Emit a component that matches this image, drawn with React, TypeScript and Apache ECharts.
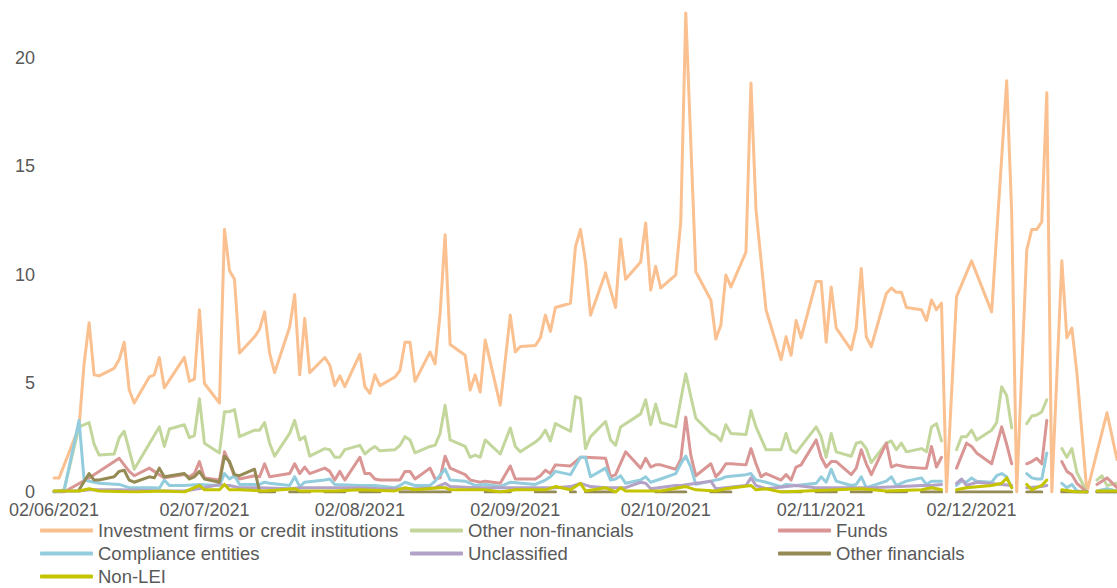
import React, { useEffect, useRef } from "react";
import * as echarts from "echarts";

// x values are days since 2 June 2021; "-" marks a gap in a series
const START_DATE_UTC = Date.UTC(2021, 5, 2);
const monthTickDays = [0, 30, 61, 92, 122, 153, 183];

const seriesNames = [
  "Investment firms or credit institutions",
  "Other non-financials",
  "Funds",
  "Compliance entities",
  "Unclassified",
  "Other financials",
  "Non-LEI",
];

const seriesColors = ["#FAC090", "#C3D69B", "#D99694", "#93CDDD", "#B3A2C7", "#948A54", "#C4C400"];

const investmentFirms = [
  [0, 0.64], [1, 0.64], [5, 3.0], [6, 5.9], [7, 7.8], [8, 5.4], [9, 5.35], [12, 5.7], [13, 6.1], [14, 6.9],
  [15, 4.7], [16, 4.1], [19, 5.3], [20, 5.4], [21, 6.2], [22, 4.8], [26, 6.2], [27, 5.1], [28, 5.2], [29, 8.4],
  [30, 5.0], [33, 4.1], [34, 12.1], [35, 10.2], [36, 9.8], [37, 6.4], [40, 7.15], [41, 7.5], [42, 8.3], [43, 6.4],
  [44, 5.5], [47, 7.6], [48, 9.1], [49, 5.4], [50, 8.0], [51, 5.5], [54, 6.2], [55, 5.85], [56, 4.9], [57, 5.35],
  [58, 4.85], [61, 6.35], [62, 4.85], [63, 4.55], [64, 5.4], [65, 4.9], [68, 5.3], [69, 5.6], [70, 6.9], [71, 6.9],
  [72, 5.1], [75, 6.45], [76, 5.9], [77, 8.2], [78, 11.85], [79, 6.8], [82, 6.3], [83, 4.7], [84, 5.4], [85, 4.6],
  [86, 7.0], [89, 4.0], [91, 8.15], [92, 6.45], [93, 6.7], [96, 6.75], [97, 7.1], [98, 8.15], [99, 7.4], [100, 8.5],
  [103, 8.7], [104, 11.3], [105, 12.1], [106, 10.6], [107, 8.15], [110, 10.1], [112, 8.5], [113, 11.65], [114, 9.8],
  [117, 10.6], [118, 12.4], [119, 9.3], [120, 10.4], [121, 9.4], [124, 10.0], [125, 12.45], [126, 22.07], [128, 10.15],
  [131, 8.85], [132, 7.05], [133, 7.7], [134, 10.0], [135, 9.45], [138, 11.05], [139, 18.85], [140, 13.0], [142, 8.4],
  [145, 6.1], [146, 7.15], [147, 6.3], [148, 7.9], [149, 7.1], [152, 9.7], [153, 9.7], [154, 6.9], [155, 9.45],
  [156, 7.55], [159, 6.55], [160, 7.55], [161, 10.3], [162, 7.15], [163, 6.7], [166, 9.15], [167, 9.4], [168, 9.2],
  [169, 9.2], [170, 8.5], [173, 8.4], [174, 7.9], [175, 8.85], [176, 8.4], [177, 8.7], [178, 0], [180, 9.0],
  [183, 10.65], [187, 8.3], [190, 18.95], [191, 12.85], [192, 0], [194, 11.15], [195, 12.1], [196, 12.1], [197, 12.45],
  [198, 18.4], [199, 0], [201, 10.65], [202, 7.1], [203, 7.55], [204, 5.5], [206, 0], [210, 3.65], [212, 1.5],
];

const otherNonFinancials = [
  [0, 0], [2, 0.1], [5, 3.0], [7, 3.2], [8, 2.2], [9, 1.7], [12, 1.75], [13, 2.5], [14, 2.8], [16, 1.05],
  [21, 3.0], [22, 2.1], [23, 2.9], [26, 3.1], [27, 2.5], [28, 2.6], [29, 4.3], [30, 2.25], [33, 1.8], [34, 3.7],
  [35, 3.7], [36, 3.8], [37, 2.55], [40, 2.85], [41, 2.85], [42, 3.2], [43, 2.25], [44, 1.65], [47, 2.7], [48, 3.3],
  [49, 2.4], [50, 2.55], [51, 1.65], [54, 2.0], [55, 1.95], [56, 1.6], [57, 1.6], [58, 1.95], [61, 2.15], [62, 1.75],
  [63, 1.95], [64, 2.1], [65, 1.9], [68, 1.95], [69, 2.15], [70, 2.55], [71, 2.4], [72, 1.8], [75, 2.1], [76, 2.15],
  [77, 2.7], [78, 4.0], [79, 2.4], [82, 2.1], [83, 1.6], [84, 1.7], [85, 1.6], [86, 2.4], [89, 1.75], [91, 2.95],
  [92, 2.1], [93, 1.85], [96, 2.3], [97, 2.5], [98, 2.85], [99, 2.35], [100, 3.15], [103, 2.8], [104, 4.4], [105, 4.3],
  [106, 2.0], [107, 2.55], [110, 3.25], [111, 2.4], [112, 2.15], [113, 3.0], [117, 3.6], [118, 4.25], [119, 3.1],
  [120, 4.05], [121, 3.2], [124, 3.0], [125, 4.25], [126, 5.45], [127, 4.4], [128, 3.4], [131, 2.7], [132, 2.6],
  [133, 2.35], [134, 3.1], [135, 2.7], [138, 2.65], [139, 3.75], [140, 3.0], [142, 1.95], [145, 1.95], [146, 2.7],
  [147, 1.95], [148, 1.8], [152, 3.0], [153, 2.55], [154, 1.6], [155, 2.7], [156, 1.85], [159, 1.65], [160, 2.25],
  [161, 2.3], [162, 2.0], [163, 1.35], [166, 2.25], [167, 2.35], [168, 1.95], [169, 2.25], [170, 1.85], [173, 2.0],
  [174, 1.85], [175, 3.0], [176, 3.15], [177, 2.35], [178, "-"], [180, 1.95], [181, 2.55], [182, 2.55], [183, 2.85],
  [184, 2.4], [187, 2.85], [188, 3.2], [189, 4.85], [190, 4.45], [191, 2.95], [192, "-"], [194, 3.15], [195, 3.5],
  [196, 3.55], [197, 3.7], [198, 4.25], [199, "-"], [201, 2.0], [202, 1.6], [203, 2.0], [204, 0.9], [206, 0],
  [207, "-"], [208, 0.55], [209, 0.75], [210, 0.3], [212, 0.4],
];

const funds = [
  [0, 0], [2, 0], [7, 0.65], [13, 1.55], [15, 0.95], [16, 0.75], [19, 1.1], [20, 0.95], [21, 0.8], [22, 0.65],
  [26, 0.8], [27, 0.7], [28, 0.85], [29, 1.4], [30, 0.65], [33, 0.55], [34, 1.85], [35, 1.35], [36, 0.7], [37, 0.6],
  [40, 0.75], [41, 0.7], [42, 1.3], [43, 0.7], [47, 0.85], [48, 1.3], [49, 0.85], [50, 1.15], [51, 0.85], [54, 1.1],
  [55, 0.95], [56, 0.55], [57, 0.95], [58, 0.55], [61, 1.6], [62, 0.85], [63, 0.85], [64, 0.6], [65, 0.55], [69, 0.55],
  [70, 0.95], [71, 0.95], [72, 0.6], [75, 1.1], [76, 0.6], [77, 0.65], [78, 1.65], [79, 1.1], [82, 0.8], [83, 0.55],
  [84, 0.5], [85, 0.45], [86, 0.5], [89, 0.4], [91, 1.2], [92, 0.6], [96, 0.6], [97, 0.75], [98, 1.0], [99, 0.85],
  [100, 1.25], [103, 1.2], [105, 1.6], [106, 1.6], [110, 1.55], [111, 0.7], [112, 0.8], [114, 1.85], [117, 1.1],
  [118, 1.55], [119, 1.15], [120, 1.25], [121, 1.25], [124, 1.05], [125, 1.5], [126, 3.45], [127, 1.7], [128, 0.75],
  [131, 1.3], [132, 0.7], [133, 0.95], [134, 1.3], [135, 1.3], [138, 1.25], [139, 2.0], [140, 1.3], [141, 0.7],
  [142, 0.85], [145, 0.55], [146, 0.8], [147, 0.55], [148, 1.15], [149, 1.25], [152, 2.4], [153, 1.6], [154, 1.15],
  [155, 1.4], [156, 1.4], [159, 0.8], [160, 1.1], [161, 1.95], [162, 1.3], [163, 0.8], [166, 2.25], [167, 1.15],
  [168, 1.25], [169, 1.2], [170, 1.15], [173, 1.1], [174, 1.1], [175, 2.1], [176, 1.15], [177, 1.6], [178, "-"],
  [180, 1.1], [182, 2.25], [183, 2.1], [184, 1.8], [187, 1.3], [189, 3.0], [190, 2.2], [191, 1.3], [192, "-"],
  [194, 1.3], [195, 1.4], [196, 1.55], [197, 1.3], [198, 3.3], [199, "-"], [201, 1.4], [202, 0.95], [203, 0.8],
  [204, 0.4], [206, 0], [207, "-"], [208, 0.35], [210, 0.65], [212, 0.2],
];

const complianceEntities = [
  [0, 0], [2, 0.05], [5, 3.3], [6, 0.55], [8, 0.45], [9, 0.4], [13, 0.35], [15, 0.2], [20, 0.2], [21, 0.17],
  [22, 0.55], [23, 0.3], [26, 0.3], [29, 0.35], [33, 0.3], [34, 0.85], [35, 0.6], [36, 0.75], [37, 0.35], [41, 0.35],
  [42, 0.45], [43, 0.4], [47, 0.3], [48, 0.7], [49, 0.25], [50, 0.45], [54, 0.55], [55, 0.6], [56, 0.35], [61, 0.3],
  [64, 0.3], [68, 0.2], [69, 0.3], [70, 0.45], [72, 0.3], [75, 0.3], [76, 0.5], [78, 1.05], [79, 0.55], [82, 0.5],
  [84, 0.3], [86, 0.35], [89, 0.25], [91, 0.45], [96, 0.35], [98, 0.55], [99, 0.7], [100, 0.95], [103, 0.8],
  [105, 1.6], [106, 1.6], [107, 0.7], [110, 1.1], [111, 0.55], [112, 0.6], [113, 0.75], [114, 0.4], [117, 0.55],
  [118, 0.7], [119, 0.45], [121, 0.6], [124, 0.85], [125, 1.3], [126, 1.65], [127, 1.15], [128, 0.35], [131, 0.5],
  [133, 0.6], [134, 0.7], [138, 0.8], [139, 0.85], [140, 0.55], [142, 0.45], [145, 0.25], [146, 0.35], [148, 0.3],
  [152, 0.4], [153, 0.7], [154, 0.45], [155, 1.05], [156, 0.5], [159, 0.3], [160, 0.35], [161, 0.7], [162, 0.2],
  [166, 0.5], [167, 0.7], [168, 0.3], [170, 0.5], [173, 0.65], [174, 0.35], [175, 0.5], [177, 0.5], [178, "-"],
  [180, 0.3], [181, 0.5], [182, 0.45], [183, 0.65], [184, 0.5], [187, 0.45], [188, 0.75], [189, 0.85], [190, 0.7],
  [191, 0.2], [192, "-"], [194, 0.85], [195, 0.65], [196, 0.6], [197, 0.6], [198, 1.8], [199, "-"], [201, 0.4],
  [202, 0.2], [203, 0.35], [204, 0.05], [206, 0], [207, "-"], [208, 0.05], [210, 0.15], [212, 0.05],
];

const unclassified = [
  [0, 0.05], [5, 0.05], [7, 0.1], [13, 0.1], [22, 0.05], [26, 0.05], [30, 0.2], [33, 0.35], [34, 0.3], [35, 0.3],
  [37, 0.2], [41, 0.2], [47, 0.15], [49, 0.2], [54, 0.2], [61, 0.2], [65, 0.15], [72, 0.15], [76, 0.2], [78, 0.4],
  [79, 0.25], [84, 0.2], [92, 0.2], [100, 0.2], [103, 0.25], [105, 0.4], [107, 0.25], [110, 0.2], [114, 0.2],
  [117, 0.45], [118, 0.4], [119, 0.15], [124, 0.3], [125, 0.3], [131, 0.5], [132, 0.15], [138, 0.3], [139, 0.65],
  [140, 0.3], [142, 0.15], [148, 0.3], [152, 0.2], [161, 0.2], [163, 0.2], [169, 0.25], [173, 0.3], [175, 0.3],
  [177, 0.35], [178, "-"], [180, 0.4], [181, 0.6], [182, 0.3], [184, 0.45], [189, 0.35], [191, 0.3], [192, "-"],
  [194, 0.2], [197, 0.25], [198, 0.3], [199, "-"], [201, 0.05], [204, 0], [206, 0], [207, "-"], [208, 0], [212, 0],
];

const otherFinancials = [
  [5, 0.1], [7, 0.85], [8, 0.55], [9, 0.55], [12, 0.7], [13, 0.95], [14, 1.0], [15, 0.55], [16, 0.45], [19, 0.7],
  [20, 0.65], [21, 1.1], [22, 0.7], [26, 0.85], [27, 0.6], [28, 0.7], [29, 0.95], [30, 0.6], [33, 0.45], [34, 1.65],
  [35, 1.4], [36, 0.8], [37, 0.75], [40, 1.05], [41, 0], [44, 0], [45, "-"], [47, 0], [51, 0], [52, "-"], [54, 0],
  [58, 0], [59, "-"], [61, 0], [65, 0], [66, "-"], [69, 0], [79, 0], [80, "-"], [86, 0], [91, 0], [94, "-"], [96, 0],
  [100, 0], [101, "-"], [103, 0], [104, 0], [105, "-"], [106, 0], [112, 0], [115, "-"], [120, 0], [126, 0],
  [129, "-"], [131, 0], [135, 0], [136, "-"], [145, 0], [149, 0], [150, "-"], [152, 0], [156, 0], [157, "-"],
  [159, 0], [163, 0], [164, "-"], [166, 0], [170, 0], [171, "-"], [173, 0], [177, 0], [178, "-"], [180, 0],
  [191, 0], [192, "-"], [194, 0], [197, 0], [199, "-"], [201, 0], [206, 0], [207, "-"], [208, 0], [212, 0],
];

const nonLei = [
  [0, 0.05], [5, 0.05], [7, 0.15], [9, 0.05], [16, 0.0], [22, 0.05], [26, 0.0], [29, 0.3], [30, 0.1], [33, 0.1],
  [34, 0.35], [35, 0.1], [37, 0.1], [42, 0.05], [48, 0.15], [49, 0.05], [56, 0.05], [61, 0.1], [68, 0.05], [70, 0.2],
  [72, 0.1], [77, 0.2], [78, 0.2], [79, 0.1], [86, 0.1], [89, 0.0], [92, 0.1], [98, 0.1], [100, 0.25], [103, 0.1],
  [105, 0.4], [106, 0.05], [110, 0.2], [112, 0.0], [113, 0.2], [114, 0.05], [121, 0.05], [126, 0.25], [128, 0.1],
  [132, 0.05], [134, 0.15], [139, 0.3], [140, 0.1], [142, 0.15], [145, 0.0], [161, 0.15], [166, 0.05], [173, 0.1],
  [175, 0.2], [177, 0.1], [178, "-"], [180, 0.1], [182, 0.2], [187, 0.3], [189, 0.4], [190, 0.65], [191, 0.2],
  [192, "-"], [194, 0.35], [195, 0.1], [197, 0.3], [198, 0.55], [199, "-"], [201, 0.1], [204, 0.0], [206, 0],
  [207, "-"], [208, 0.05], [212, 0.05],
];

const seriesData = [
  investmentFirms,
  otherNonFinancials,
  funds,
  complianceEntities,
  unclassified,
  otherFinancials,
  nonLei,
];

const FONT = "'Liberation Sans', Arial, sans-serif";
const TEXT_COLOR = "#595959";

function dayLabel(d: number): string {
  const dt = new Date(START_DATE_UTC + Math.round(d) * 86400000);
  const dd = String(dt.getUTCDate()).padStart(2, "0");
  const mm = String(dt.getUTCMonth() + 1).padStart(2, "0");
  return `${dd}/${mm}/${dt.getUTCFullYear()}`;
}

function legendBlock(names: string[], left: number) {
  return {
    data: names,
    orient: "vertical",
    left,
    top: 521,
    padding: 0,
    itemGap: 4,
    itemWidth: 53,
    itemHeight: 4,
    icon: "roundRect",
    selectedMode: false,
    textStyle: { color: TEXT_COLOR, fontSize: 18.5, fontFamily: FONT, padding: [0, 0, 0, 0] },
  };
}

export default function App() {
  const ref = useRef<HTMLDivElement>(null);

  useEffect(() => {
    if (!ref.current) return;
    const chart = echarts.init(ref.current, null, { renderer: "svg" });
    chart.setOption({
      animation: false,
      backgroundColor: "#ffffff",
      grid: { left: 54, right: -1, top: 0, bottom: 96, containLabel: false },
      legend: [
        legendBlock([seriesNames[0], seriesNames[3], seriesNames[6]], 40),
        legendBlock([seriesNames[1], seriesNames[4]], 410),
        legendBlock([seriesNames[2], seriesNames[5]], 778),
      ],
      xAxis: {
        type: "value",
        min: 0,
        max: 212,
        axisLine: { show: false },
        axisTick: { show: false },
        splitLine: { show: false },
        axisLabel: {
          customValues: monthTickDays,
          formatter: (v: number) => dayLabel(v),
          color: TEXT_COLOR,
          fontSize: 18,
          lineHeight: 16,
          fontFamily: FONT,
          margin: 10,
        },
      },
      yAxis: {
        type: "value",
        min: 0,
        max: 22.67,
        interval: 5,
        axisLine: { show: false },
        axisTick: { show: false },
        splitLine: { show: false },
        axisLabel: {
          formatter: (v: number) => (Math.abs(v % 5) < 1e-9 ? String(v) : ""),
          color: TEXT_COLOR,
          fontSize: 18,
          lineHeight: 14,
          fontFamily: FONT,
          margin: 19,
        },
      },
      series: seriesNames.map((name, i) => ({
        name,
        type: "line",
        data: seriesData[i],
        showSymbol: false,
        symbol: "none",
        connectNulls: false,
        clip: true,
        itemStyle: { color: seriesColors[i] },
        lineStyle: { color: seriesColors[i], width: 3, join: "round", cap: "round" },
      })),
    });
    return () => chart.dispose();
  }, []);

  return (
    <div
      ref={ref}
      style={{ position: "fixed", left: 0, top: 0, width: 1117, height: 588, background: "#fff" }}
    />
  );
}
